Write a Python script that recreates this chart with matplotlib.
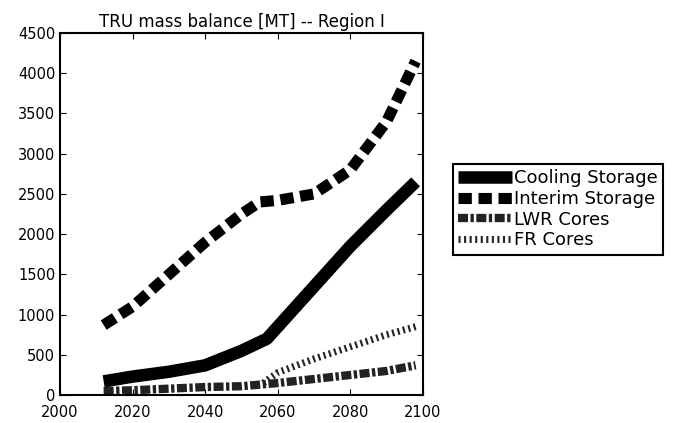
import numpy as np
import matplotlib.pyplot as plt

# data
yr_interim = [2012, 2020, 2030, 2040, 2050, 2055, 2060, 2070, 2080, 2090, 2098]
interim = [870, 1100, 1500, 1900, 2250, 2400, 2420, 2500, 2800, 3400, 4150]

yr_cool = [2012, 2020, 2030, 2040, 2050, 2057, 2060, 2070, 2080, 2090, 2098]
cooling = [170, 230, 290, 370, 550, 700, 850, 1350, 1850, 2300, 2650]

yr_lwr = [2012, 2020, 2030, 2040, 2050, 2060, 2070, 2080, 2090, 2098]
lwr = [50, 60, 80, 100, 110, 150, 200, 250, 300, 370]

yr_fr = [2056, 2060, 2070, 2080, 2090, 2098]
fr = [150, 280, 450, 600, 750, 850]

fig = plt.figure(figsize=(6.91, 4.23), dpi=100)
ax = fig.add_axes([0.087, 0.066, 0.525, 0.856])

ax.plot(yr_cool, cooling, color='black', lw=9, solid_capstyle='butt', label='Cooling Storage')
ax.plot(yr_interim, interim, color='black', lw=8, ls=(0, (1.2, 0.6)), label='Interim Storage')
ax.plot(yr_lwr, lwr, color='#222222', lw=6, ls=(0, (1.2, 0.3, 0.4, 0.3)), label='LWR Cores')
ax.plot(yr_fr, fr, color='#222222', lw=5, ls=(0, (0.3, 0.5)), label='FR Cores')

ax.set_xlim(2000, 2100)
ax.set_ylim(0, 4500)
ax.set_xticks(np.arange(2000, 2101, 20))
ax.set_yticks(np.arange(0, 4501, 500))
ax.tick_params(direction='in', top=True, right=True, labelsize=10.5, length=4)
ax.tick_params(axis='x', pad=7)
for s in ax.spines.values():
    s.set_linewidth(1.5)
ax.set_title("TRU mass balance [MT] -- Region I", fontsize=12, pad=4)

leg = fig.legend(loc='center left', bbox_to_anchor=(0.642, 0.505), fontsize=13,
                 handlelength=3.0, handletextpad=0.1, borderpad=0.3, labelspacing=0.15,
                 fancybox=False, edgecolor='black', framealpha=1)
leg.get_frame().set_linewidth(1.5)

fig.savefig('out.png', dpi=100)
